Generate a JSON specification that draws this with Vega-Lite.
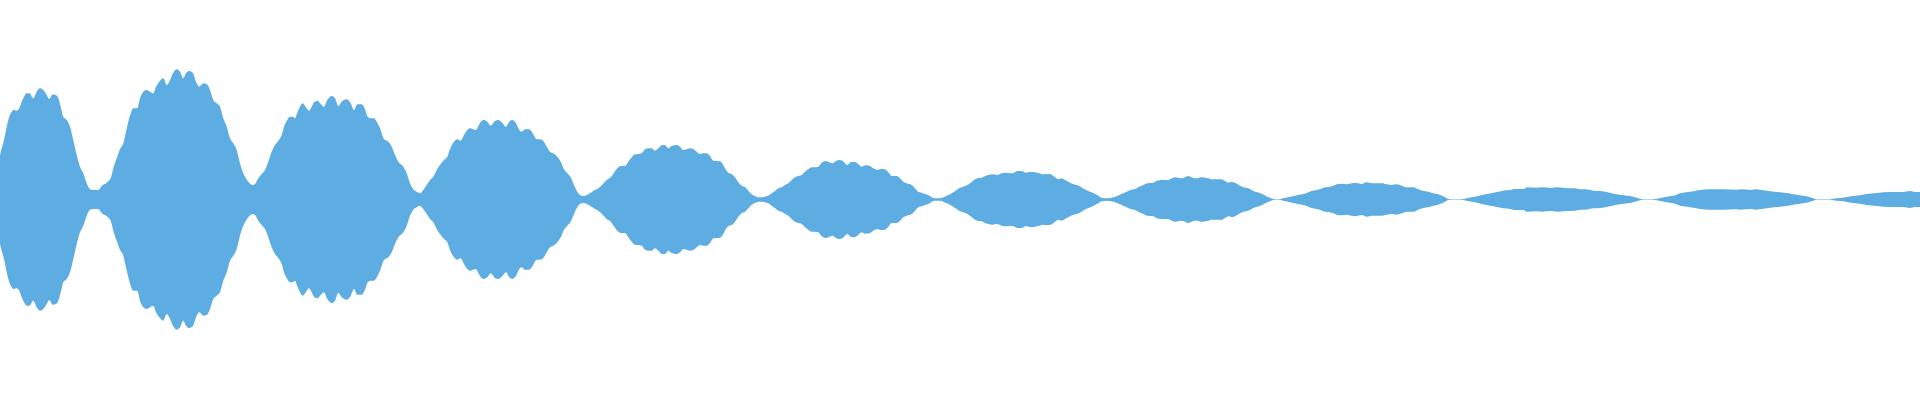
{
  "$schema": "https://vega.github.io/schema/vega-lite/v6.json",
  "width": 1920,
  "height": 400,
  "padding": 0,
  "autosize": {"type": "fit", "contains": "padding"},
  "background": "white",
  "config": {"view": {"stroke": null}},
  "data": {"values": [
    {"t":0,"a":44.5},{"t":1.7,"a":51.2},{"t":4,"a":59.5},{"t":6.7,"a":72.8},{"t":9.3,"a":82.8},{"t":11.7,"a":87.8},{"t":13.3,"a":89.5},{"t":16.7,"a":88.8},{"t":19.3,"a":91.2},{"t":21.7,"a":97.8},{"t":24,"a":102.8},{"t":26.7,"a":106.2},{"t":29.3,"a":106.2},{"t":33.3,"a":101.2},{"t":36.7,"a":107.8},{"t":40,"a":111.2},{"t":43.3,"a":109.5},{"t":46.7,"a":104.5},{"t":49.3,"a":100.5},{"t":52.7,"a":105.2},{"t":56,"a":104.5},{"t":58.3,"a":101.2},{"t":60.7,"a":92.8},{"t":63.3,"a":82.8},{"t":66.7,"a":79.5},{"t":70,"a":72.8},{"t":73.3,"a":59.5},{"t":76.7,"a":44.5},{"t":80,"a":32.8},{"t":83.3,"a":26.2},{"t":86.7,"a":16.2},{"t":90,"a":10.2},{"t":93.3,"a":9.5},{"t":98.3,"a":9.5},{"t":101.7,"a":13.5},{"t":106.7,"a":16.8},{"t":110.7,"a":21.2},{"t":113.3,"a":31.2},{"t":116.7,"a":41.2},{"t":120,"a":50.2},{"t":123.3,"a":56.2},{"t":126,"a":67.8},{"t":128.3,"a":77.8},{"t":130.7,"a":86.2},{"t":133.3,"a":91.2},{"t":137.3,"a":91.2},{"t":140,"a":101.2},{"t":143.3,"a":107.8},{"t":146.7,"a":109.5},{"t":150,"a":107.8},{"t":153.3,"a":106.2},{"t":156,"a":112.8},{"t":159.3,"a":117.8},{"t":163.3,"a":121.2},{"t":166.7,"a":114.5},{"t":170,"a":119.5},{"t":173.3,"a":126.8},{"t":176.7,"a":130.2},{"t":180,"a":127.8},{"t":183.3,"a":121.2},{"t":186,"a":126.2},{"t":189.3,"a":128.5},{"t":192.7,"a":126.8},{"t":196.7,"a":116.2},{"t":199.3,"a":112.8},{"t":203.3,"a":116.2},{"t":206.7,"a":115.5},{"t":210,"a":109.5},{"t":213.3,"a":99.5},{"t":216.7,"a":96.2},{"t":220,"a":92.8},{"t":223.3,"a":81.2},{"t":226.7,"a":72.8},{"t":230,"a":61.2},{"t":233.3,"a":56.2},{"t":236.7,"a":49.5},{"t":240,"a":36},
    {"t":242.7,"a":27.8},{"t":245,"a":22.8},{"t":248.3,"a":17.8},{"t":252.7,"a":14.5},{"t":255,"a":15.5},{"t":258.3,"a":21.2},{"t":261.7,"a":25.5},{"t":265,"a":29.5},{"t":268.3,"a":37.8},{"t":271.7,"a":47.8},{"t":275,"a":54.5},{"t":278.3,"a":58.5},{"t":281.7,"a":64.5},{"t":284,"a":72.8},{"t":286.7,"a":78.5},{"t":290,"a":82.8},{"t":292.7,"a":82.8},{"t":295,"a":81.2},{"t":297.3,"a":86.8},{"t":300,"a":92.8},{"t":302.7,"a":96.2},{"t":306,"a":92.2},{"t":309,"a":88.8},{"t":311.7,"a":92.8},{"t":314,"a":97.2},{"t":317.3,"a":98.8},{"t":320.7,"a":95.5},{"t":324,"a":92.8},{"t":327.3,"a":99.5},{"t":331.7,"a":103.5},{"t":335,"a":101.2},{"t":338.3,"a":93.5},{"t":341.7,"a":97.8},{"t":346.7,"a":100.2},{"t":350.7,"a":96.2},{"t":354,"a":89.5},{"t":357.3,"a":95.2},{"t":361.7,"a":95.2},{"t":365,"a":90.2},{"t":367.7,"a":82.8},{"t":370.7,"a":81.2},{"t":374,"a":81.2},{"t":376.7,"a":77.8},{"t":380,"a":71.2},{"t":384,"a":60.5},{"t":388.3,"a":57.8},{"t":391.7,"a":52.8},{"t":395,"a":44.5},{"t":398.3,"a":37.8},{"t":403.3,"a":32.8},{"t":406.7,"a":26.2},{"t":410,"a":16.2},{"t":413.3,"a":10.2},{"t":416.7,"a":7.8},{"t":420,"a":6.2},{"t":423.3,"a":9.5},{"t":426.7,"a":14.5},{"t":430,"a":19.5},{"t":433.3,"a":22.8},{"t":436.7,"a":29.5},{"t":440,"a":34.5},{"t":444,"a":39.5},{"t":447.3,"a":42.8},{"t":450.7,"a":52.2},{"t":454,"a":57.8},{"t":457.3,"a":60.2},{"t":460.7,"a":58.8},{"t":464,"a":64.5},{"t":466.7,"a":68.8},{"t":470,"a":71.2},{"t":473.3,"a":70.2},{"t":476,"a":69.5},{"t":478.3,"a":73.5},{"t":480,"a":76.5},
    {"t":483.3,"a":79.5},{"t":487.3,"a":77.8},{"t":490.7,"a":73.8},{"t":495,"a":78.5},{"t":498.3,"a":79.5},{"t":501.7,"a":77.2},{"t":506,"a":72.8},{"t":509.3,"a":77.8},{"t":512.3,"a":79.5},{"t":516,"a":76.2},{"t":519.3,"a":69.5},{"t":521.7,"a":67.8},{"t":525,"a":70.2},{"t":529.3,"a":70.2},{"t":532.7,"a":66.2},{"t":536.7,"a":60.2},{"t":540,"a":60.2},{"t":543.3,"a":58.5},{"t":546.7,"a":52.8},{"t":550,"a":47.8},{"t":553.3,"a":46.2},{"t":557.3,"a":42.8},{"t":560.7,"a":37.8},{"t":564,"a":30.2},{"t":567.3,"a":26.2},{"t":570.7,"a":22.2},{"t":574,"a":14.5},{"t":577.3,"a":7.8},{"t":580,"a":4.5},{"t":583.3,"a":3.5},{"t":586.7,"a":4.5},{"t":590.7,"a":6.8},{"t":595,"a":9.5},{"t":598.3,"a":11.2},{"t":602.7,"a":15.2},{"t":606.7,"a":19.5},{"t":610.7,"a":22.2},{"t":614,"a":26.8},{"t":617.3,"a":31.2},{"t":620.7,"a":33.5},{"t":625,"a":33.5},{"t":628.3,"a":37.8},{"t":631.7,"a":42.2},{"t":635,"a":45.2},{"t":638.3,"a":45.5},{"t":641.7,"a":46.2},{"t":645,"a":50.2},{"t":648.3,"a":51.2},{"t":651.7,"a":51.2},{"t":655,"a":48.8},{"t":658.3,"a":51.2},{"t":661.7,"a":54.2},{"t":665,"a":54.5},{"t":668.3,"a":51.2},{"t":671.7,"a":53.5},{"t":676.7,"a":54.5},{"t":680,"a":52.8},{"t":683.3,"a":49.5},{"t":686.7,"a":50.2},{"t":690,"a":51.2},{"t":693.3,"a":50.5},{"t":696.7,"a":47.8},{"t":700,"a":45.5},{"t":703.3,"a":46.2},{"t":706.7,"a":46.2},{"t":710,"a":43.5},{"t":713.3,"a":38.8},{"t":720,"a":38.3},
    {"t":722.7,"a":35.5},{"t":725,"a":31.2},{"t":728.3,"a":26.8},{"t":731.7,"a":25.5},{"t":735,"a":22.2},{"t":738.3,"a":17.2},{"t":741.7,"a":13.8},{"t":745,"a":12.2},{"t":748.3,"a":8.8},{"t":751.7,"a":5.2},{"t":755,"a":3.5},{"t":758.3,"a":2.2},{"t":761.7,"a":2.2},{"t":765,"a":2.8},{"t":768.3,"a":3.8},{"t":771.7,"a":6.2},{"t":775,"a":8.5},{"t":778.3,"a":11.2},{"t":781.7,"a":12.2},{"t":785,"a":14.5},{"t":788.3,"a":16.2},{"t":791.7,"a":19.5},{"t":795,"a":22.2},{"t":798.3,"a":23.5},{"t":801.7,"a":24.5},{"t":805,"a":27.8},{"t":808.3,"a":30.2},{"t":811.7,"a":32.2},{"t":815,"a":32.2},{"t":818.3,"a":32.8},{"t":821.7,"a":36.8},{"t":826,"a":38.5},{"t":829.3,"a":37.2},{"t":832.7,"a":36.2},{"t":836,"a":38.5},{"t":839.3,"a":39.5},{"t":842.7,"a":38.5},{"t":847.3,"a":34.5},{"t":850.7,"a":37.2},{"t":854,"a":37.8},{"t":857.3,"a":36.2},{"t":861.7,"a":32.8},{"t":865,"a":34.2},{"t":869.3,"a":33.8},{"t":873.3,"a":31.2},{"t":877.3,"a":29.5},{"t":880.7,"a":30.5},{"t":885,"a":30.2},{"t":888.3,"a":27.2},{"t":891.7,"a":23.5},{"t":896.7,"a":23.5},{"t":900,"a":21.2},{"t":903.3,"a":17.8},{"t":906.7,"a":16.2},{"t":911.7,"a":14.5},{"t":915,"a":11.2},{"t":918.3,"a":7.8},{"t":921.7,"a":6.8},{"t":925,"a":5.5},{"t":928.3,"a":4.5},{"t":931.7,"a":2.2},{"t":935,"a":1.2},{"t":940,"a":1.2},{"t":943.3,"a":2.2},{"t":946.7,"a":3.8},{"t":950,"a":5.2},{"t":953.3,"a":7.2},{"t":956.7,"a":9.5},{"t":960,"a":11.7},
    {"t":963.3,"a":12.8},{"t":967.3,"a":14.5},{"t":970.7,"a":16.8},{"t":974,"a":19.5},{"t":977.3,"a":21.2},{"t":981.7,"a":21.8},{"t":985,"a":23.5},{"t":988.3,"a":24.5},{"t":992.7,"a":25.2},{"t":997.3,"a":24.5},{"t":1001.7,"a":26.2},{"t":1006,"a":26.8},{"t":1010,"a":26.2},{"t":1014,"a":26.8},{"t":1017.3,"a":28.5},{"t":1021.7,"a":28.5},{"t":1026,"a":26.8},{"t":1030,"a":27.5},{"t":1035,"a":27.2},{"t":1039.3,"a":26.2},{"t":1042.7,"a":25.2},{"t":1046.7,"a":25.5},{"t":1050.7,"a":25.2},{"t":1055,"a":22.2},{"t":1058.3,"a":20.2},{"t":1061.7,"a":21.2},{"t":1065,"a":19.5},{"t":1068.3,"a":17.8},{"t":1072.7,"a":15.5},{"t":1076.7,"a":14.5},{"t":1080.7,"a":12.8},{"t":1084,"a":10.5},{"t":1088.3,"a":8.5},{"t":1091.7,"a":7.2},{"t":1095,"a":5.5},{"t":1098.3,"a":3.8},{"t":1101.7,"a":1.8},{"t":1106.7,"a":1.2},{"t":1111.7,"a":1.8},{"t":1115,"a":2.8},{"t":1119.3,"a":4.5},{"t":1123.3,"a":6.2},{"t":1126.7,"a":7.8},{"t":1130.7,"a":9.5},{"t":1135,"a":10.5},{"t":1138.3,"a":12.2},{"t":1143.3,"a":14.5},{"t":1147.3,"a":16.2},{"t":1153.3,"a":16.8},{"t":1156.7,"a":18.8},{"t":1161.7,"a":19.5},{"t":1168.3,"a":19.5},{"t":1171.7,"a":21.2},{"t":1176,"a":22.2},{"t":1180,"a":21.2},{"t":1184,"a":21.8},{"t":1188.3,"a":23.5},{"t":1191.7,"a":22.2},{"t":1195,"a":21.2},{"t":1198.3,"a":21.2},
    {"t":1200,"a":22.2},{"t":1208.3,"a":21.2},{"t":1211.7,"a":20.2},{"t":1221.7,"a":20.2},{"t":1225,"a":18.5},{"t":1228.3,"a":16.8},{"t":1231.7,"a":17.5},{"t":1236,"a":16.2},{"t":1240,"a":13.8},{"t":1243.3,"a":12.2},{"t":1248.3,"a":11.2},{"t":1251.7,"a":9.5},{"t":1255,"a":7.8},{"t":1259.3,"a":6.8},{"t":1262.7,"a":5.2},{"t":1266,"a":3.5},{"t":1270,"a":1.8},{"t":1273.3,"a":0.5},{"t":1278.3,"a":0.2},{"t":1283.3,"a":1.2},{"t":1288.3,"a":2.2},{"t":1293.3,"a":3.5},{"t":1298.3,"a":4.5},{"t":1303.3,"a":5.5},{"t":1307.3,"a":6.8},{"t":1311.7,"a":8.5},{"t":1316.7,"a":9.5},{"t":1320.7,"a":10.5},{"t":1325,"a":12.2},{"t":1330,"a":12.8},{"t":1333.3,"a":13.8},{"t":1336.7,"a":15.2},{"t":1341.7,"a":15.8},{"t":1346.7,"a":15.2},{"t":1351.7,"a":16.2},{"t":1356.7,"a":16.5},{"t":1361.7,"a":15.5},{"t":1366.7,"a":17.2},{"t":1371.7,"a":16.2},{"t":1376.7,"a":16.2},{"t":1381.7,"a":16.2},{"t":1386.7,"a":15.2},{"t":1391.7,"a":14.5},{"t":1396.7,"a":15.2},{"t":1401.7,"a":13.8},{"t":1406.7,"a":12.2},{"t":1413.3,"a":12.2},{"t":1418.3,"a":10.2},{"t":1423.3,"a":8.5},{"t":1428.3,"a":7.8},{"t":1433.3,"a":6.2},{"t":1438.3,"a":5.2},
    {"t":1440,"a":4.5},{"t":1445,"a":2.2},{"t":1448.3,"a":0.5},{"t":1453.3,"a":0.2},{"t":1460,"a":0.2},{"t":1466.7,"a":1.2},{"t":1471.7,"a":2.2},{"t":1478.3,"a":3.5},{"t":1481.7,"a":4.5},{"t":1486.7,"a":5.5},{"t":1493.3,"a":6.8},{"t":1498.3,"a":7.8},{"t":1503.3,"a":8.8},{"t":1510,"a":9.5},{"t":1515,"a":10.5},{"t":1523.3,"a":10.5},{"t":1527.3,"a":12.2},{"t":1536.7,"a":11.8},{"t":1541.7,"a":12.2},{"t":1551.7,"a":11.5},{"t":1556.7,"a":12.2},{"t":1565,"a":11.5},{"t":1575,"a":11.2},{"t":1580,"a":10.2},{"t":1585,"a":10.2},{"t":1593.3,"a":8.8},{"t":1600,"a":8.5},{"t":1605,"a":7.8},{"t":1610,"a":6.8},{"t":1615,"a":5.5},{"t":1621.7,"a":4.5},{"t":1630,"a":3.5},{"t":1636.7,"a":1.8},{"t":1643.3,"a":0.2},{"t":1651.7,"a":0.2},{"t":1656.7,"a":0.8},{"t":1661.7,"a":1.8},{"t":1666.7,"a":2.8},{"t":1673.3,"a":3.8},{"t":1678.3,"a":5.5},
    {"t":1680,"a":6.2},{"t":1683.3,"a":6.8},{"t":1688.3,"a":7.5},{"t":1695,"a":8.5},{"t":1698.3,"a":9.2},{"t":1711.7,"a":10.2},{"t":1723.3,"a":10.2},{"t":1736.7,"a":9.8},{"t":1740,"a":10.2},{"t":1751.7,"a":9.5},{"t":1755,"a":10.2},{"t":1761.7,"a":9.5},{"t":1768.3,"a":8.5},{"t":1780,"a":7.2},{"t":1788.3,"a":6.2},{"t":1793.3,"a":5.2},{"t":1798.3,"a":4.5},{"t":1805,"a":3.5},{"t":1810,"a":2.2},{"t":1813.3,"a":1.2},{"t":1816.7,"a":0.2},{"t":1823.3,"a":0.2},{"t":1830,"a":0.2},{"t":1833.3,"a":0.8},{"t":1836.7,"a":1.2},{"t":1843.3,"a":1.8},{"t":1846.7,"a":2.5},{"t":1853.3,"a":3.5},{"t":1861.7,"a":4.5},{"t":1866.7,"a":5.5},{"t":1876.7,"a":6.5},{"t":1890,"a":7.5},{"t":1903.3,"a":7.5},{"t":1910,"a":8.5},{"t":1915,"a":7.5},{"t":1920,"a":7.5}
  ]},
  "mark": {"type": "area", "color": "#5DADE2", "opacity": 1, "interpolate": "monotone"},
  "encoding": {
    "x": {"field": "t", "type": "quantitative", "axis": null, "scale": {"domain": [0, 1920], "nice": false, "zero": false}},
    "y": {"field": "a", "type": "quantitative", "stack": "center", "axis": null, "scale": {"domain": [-35.15, 164.85], "nice": false, "zero": false}}
  }
}
